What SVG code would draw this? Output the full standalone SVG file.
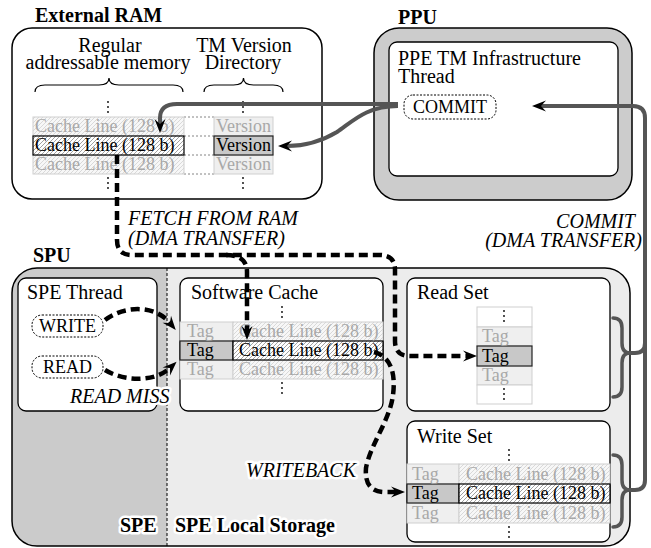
<svg xmlns="http://www.w3.org/2000/svg" width="651" height="548" viewBox="0 0 651 548" font-family="'Liberation Serif', Tinos, 'Times New Roman', 'DejaVu Serif', serif">
  <style>
    text { font-family: "Liberation Serif", Tinos, "Times New Roman", "Noto Serif", "DejaVu Serif", serif; font-size: 20px; fill: #000; }
    .b { font-weight: bold; }
    .i { font-style: italic; }
    .c { font-size: 18px; }
    .mid { text-anchor: middle; }
    .end { text-anchor: end; }
    .halo { paint-order: stroke; stroke: #fff; stroke-width: 5px; stroke-linejoin: round; }
    .faint { fill: #a8a8a8; }
    .box { fill: #fff; stroke: #000; stroke-width: 1.3; }
    .pill { fill: #fff; stroke: #000; stroke-width: 1; stroke-dasharray: 2 1.5; }
    .lineF { fill: url(#hatchL); stroke: #cfcfcf; stroke-width: 1; }
    .lineH { fill: url(#hatchD); stroke: #000; stroke-width: 1.2; }
    .tagF { fill: #efefef; stroke: #cfcfcf; stroke-width: 1; }
    .tagH { fill: #c8c8c8; stroke: #222; stroke-width: 1.2; }
    .cell { fill: #fff; stroke: #cfcfcf; stroke-width: 1; }
    .guide { stroke: #666; stroke-width: 0.8; stroke-dasharray: 2 2; fill: none; }
    .brace { fill: none; stroke: #000; stroke-width: 1.2; }
    .gbrace { fill: none; stroke: #555; stroke-width: 3.5; stroke-linecap: round; }
    .commit { fill: none; stroke: #555; stroke-width: 4; }
    .dma { fill: none; stroke: #000; stroke-width: 4.5; stroke-dasharray: 9 5; }
  </style>
  <defs>
    <pattern id="hatchL" width="4" height="4" patternUnits="userSpaceOnUse">
      <rect width="4" height="4" fill="#f7f7f7"/>
      <path d="M-1,1 l2,-2 M0,4 l4,-4 M3,5 l2,-2" stroke="#d2d2d2" stroke-width="0.8"/>
    </pattern>
    <pattern id="hatchD" width="4" height="4" patternUnits="userSpaceOnUse">
      <rect width="4" height="4" fill="#fff"/>
      <path d="M-1,1 l2,-2 M0,4 l4,-4 M3,5 l2,-2" stroke="#8a8a8a" stroke-width="0.8"/>
    </pattern>
    <marker id="ah" viewBox="-1 -7 16 14" markerWidth="16" markerHeight="14" refX="5" refY="0" orient="auto" markerUnits="userSpaceOnUse">
      <path d="M14,0 L0,-5.5 L5,0 L0,5.5 Z" fill="#000" stroke="none"/>
    </marker>
    <g id="vdots" fill="#000">
      <circle cx="0" cy="0" r="0.9"/>
      <circle cx="0" cy="5" r="0.9"/>
      <circle cx="0" cy="10" r="0.9"/>
    </g>
    <clipPath id="spuClip">
      <rect x="12" y="268" width="618" height="278" rx="25"/>
    </clipPath>
  </defs>

  <!-- External RAM -->
  <g id="external-ram">
    <text class="b" x="35" y="22">External RAM</text>
    <rect x="12" y="28" width="310" height="171" rx="20" fill="#fff" stroke="#000" stroke-width="1.5"/>
    <text class="mid" x="110" y="52">Regular</text>
    <text class="mid" x="108" y="69">addressable memory</text>
    <text class="mid" x="244" y="52">TM Version</text>
    <text class="mid" x="243" y="69">Directory</text>
    <path class="brace" d="M35,92 Q35,85 45,85 H99 Q109,85 109,78 Q109,85 119,85 H173 Q183,85 183,92"/>
    <path class="brace" d="M204,92 Q204,85 214,85 H233.5 Q243.5,85 243.5,78 Q243.5,85 253.5,85 H273 Q283,85 283,92"/>
    <use href="#vdots" x="108" y="102"/>
    <use href="#vdots" x="243" y="102"/>
    <path class="guide" d="M184,117 H214 M184,136 H214 M184,155 H214 M184,174 H214"/>
    <rect class="lineF" x="33" y="117" width="151" height="19"/>
    <rect class="lineF" x="33" y="155" width="151" height="19"/>
    <rect class="lineH" x="33" y="136" width="151" height="19"/>
    <text class="c faint" x="35" y="132">Cache Line (128 b)</text>
    <text class="c" x="35" y="151">Cache Line (128 b)</text>
    <text class="c faint" x="35" y="170">Cache Line (128 b)</text>
    <rect class="tagF" x="214" y="117" width="59" height="19"/>
    <rect class="tagF" x="214" y="155" width="59" height="19"/>
    <rect class="tagH" x="214" y="136" width="59" height="19"/>
    <text class="c faint" x="216" y="132">Version</text>
    <text class="c" x="216" y="151">Version</text>
    <text class="c faint" x="216" y="170">Version</text>
    <use href="#vdots" x="108" y="178"/>
    <use href="#vdots" x="243" y="178"/>
  </g>

  <!-- PPU -->
  <g id="ppu">
    <text class="b" x="398" y="24">PPU</text>
    <rect x="374" y="28" width="258" height="172" rx="25" fill="#cccccc" stroke="#000" stroke-width="1.5"/>
    <rect class="box" x="389" y="42" width="229" height="134" rx="8" stroke-width="1"/>
    <text x="398" y="65">PPE TM Infrastructure</text>
    <text x="398" y="83">Thread</text>
    <rect class="pill" x="404" y="95" width="92" height="24" rx="9"/>
    <text class="c mid" x="450" y="113">COMMIT</text>
  </g>

  <!-- SPU -->
  <g id="spu">
    <text class="b" x="33" y="262">SPU</text>
    <rect x="12" y="268" width="618" height="278" rx="25" fill="#ececec"/>
    <rect x="12" y="268" width="155" height="278" fill="#cbcbcb" clip-path="url(#spuClip)"/>
    <rect x="12" y="268" width="618" height="278" rx="25" fill="none" stroke="#000" stroke-width="1.5"/>
    <line x1="167" y1="268" x2="167" y2="546" stroke="#000" stroke-width="1" stroke-dasharray="3 2"/>
  </g>

  <g id="spe-thread">
    <rect class="box" x="18" y="278" width="139" height="133" rx="8"/>
    <text x="27" y="299">SPE Thread</text>
    <rect class="pill" x="32" y="315" width="71" height="22" rx="10"/>
    <text class="c mid" x="67.5" y="332">WRITE</text>
    <rect class="pill" x="32" y="356" width="71" height="22" rx="10"/>
    <text class="c mid" x="67.5" y="373">READ</text>
  </g>

  <g id="software-cache">
    <rect class="box" x="180" y="278" width="203" height="133" rx="8"/>
    <text x="191" y="299">Software Cache</text>
    <use href="#vdots" x="282" y="307"/>
    <rect class="tagF" x="180" y="322" width="53" height="19"/>
    <rect class="lineF" x="233" y="322" width="150" height="19"/>
    <rect class="tagF" x="180" y="360" width="53" height="19"/>
    <rect class="lineF" x="233" y="360" width="150" height="19"/>
    <rect class="tagH" x="180" y="341" width="53" height="19"/>
    <rect class="lineH" x="233" y="341" width="150" height="19"/>
    <text class="c faint" x="187" y="337">Tag</text>
    <text class="c" x="187" y="356">Tag</text>
    <text class="c faint" x="187" y="375">Tag</text>
    <text class="c faint" x="239" y="337">Cache Line (128 b)</text>
    <text class="c" x="239" y="356">Cache Line (128 b)</text>
    <text class="c faint" x="239" y="375">Cache Line (128 b)</text>
    <use href="#vdots" x="282" y="383"/>
  </g>

  <g id="read-set">
    <rect class="box" x="407" y="278" width="203" height="133" rx="8"/>
    <text x="417" y="299">Read Set</text>
    <rect class="cell" x="477" y="307" width="55" height="20"/>
    <use href="#vdots" x="504" y="311"/>
    <rect class="tagF" x="477" y="327" width="55" height="19"/>
    <rect class="tagF" x="477" y="366" width="55" height="19"/>
    <rect class="tagH" x="477" y="346" width="55" height="20"/>
    <rect class="cell" x="477" y="385" width="55" height="19"/>
    <use href="#vdots" x="504" y="389"/>
    <text class="c faint" x="482" y="342">Tag</text>
    <text class="c" x="482" y="362">Tag</text>
    <text class="c faint" x="482" y="381">Tag</text>
  </g>

  <g id="write-set">
    <rect class="box" x="407" y="421" width="203" height="121" rx="8"/>
    <text x="417" y="443">Write Set</text>
    <use href="#vdots" x="509" y="450"/>
    <rect class="tagF" x="407" y="464" width="52" height="20"/>
    <rect class="lineF" x="459" y="464" width="151" height="20"/>
    <rect class="tagF" x="407" y="503" width="52" height="20"/>
    <rect class="lineF" x="459" y="503" width="151" height="20"/>
    <rect class="tagH" x="407" y="484" width="52" height="19"/>
    <rect class="lineH" x="459" y="484" width="151" height="19"/>
    <text class="c faint" x="412" y="480">Tag</text>
    <text class="c" x="412" y="499">Tag</text>
    <text class="c faint" x="412" y="519">Tag</text>
    <text class="c faint" x="466" y="480">Cache Line (128 b)</text>
    <text class="c" x="466" y="499">Cache Line (128 b)</text>
    <text class="c faint" x="466" y="519">Cache Line (128 b)</text>
    <use href="#vdots" x="509" y="527"/>
  </g>

  <!-- Connectors -->
  <g id="connectors">
    <!-- commit to RAM -->
    <path class="commit" d="M398,104 H177 Q160,104 160,118 V124" marker-end="url(#ah)"/>
    <path class="commit" d="M398,106 C366,106 352,122 337,132 C322,141 305,146 287,146" marker-end="url(#ah)"/>
    <!-- commit from read/write sets -->
    <path class="gbrace" d="M613,318 Q622,318 622,328 V343 Q622,353 630,353 Q622,353 622,363 V387 Q622,397 613,397"/>
    <path class="gbrace" d="M613,455 Q622,455 622,465 V480 Q622,490 630,490 Q622,490 622,500 V517 Q622,527 613,527"/>
    <path class="commit" d="M630,353 H635 Q645,353 645,343"/>
    <path class="commit" d="M630,490 H635 Q645,490 645,480 V118 Q645,106 633,106 H541" marker-end="url(#ah)"/>
    <!-- fetch from RAM -->
    <path class="dma" d="M117,155 V240 Q117,255 132,255 H380 Q395,255 395,270 V341 Q395,356 410,356 H468" marker-end="url(#ah)"/>
    <path class="dma" d="M226,255 Q247,255 247,272 V331" marker-end="url(#ah)"/>
    <!-- SPE thread accesses -->
    <path class="dma" d="M105,320 C125,305 155,305 170,323" marker-end="url(#ah)"/>
    <path class="dma" d="M105,370 C125,382 155,382 170,368" marker-end="url(#ah)"/>
    <!-- writeback -->
    <path class="dma" d="M374,352 C390,356 396,372 393,395 C390,420 370,445 366,468 Q364,492 385,492 H396" marker-end="url(#ah)"/>
  </g>

  <!-- Labels -->
  <g id="labels">
    <text class="i halo" x="128" y="225">FETCH FROM RAM</text>
    <text class="i halo" x="128" y="245">(DMA TRANSFER)</text>
    <text class="i end" x="635" y="228">COMMIT</text>
    <text class="i end" x="642" y="247">(DMA TRANSFER)</text>
    <text class="i halo" x="70" y="403">READ MISS</text>
    <text class="i halo" x="246" y="477">WRITEBACK</text>
    <text class="b halo" x="120" y="532">SPE</text>
    <text class="b halo" x="175" y="532">SPE Local Storage</text>
  </g>
</svg>
